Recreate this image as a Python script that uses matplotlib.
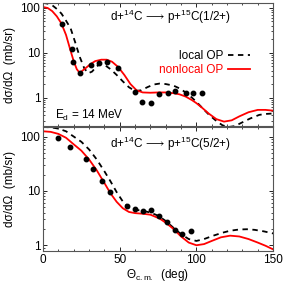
import numpy as np
import matplotlib.pyplot as plt
from matplotlib.ticker import MultipleLocator, LogLocator, NullFormatter

# ---- top panel: 1/2+ ----
top_exp_x = [12.6, 18.7, 19.8, 24.1, 31.1, 36.7, 41.6, 48.7, 60.0, 64.4, 70.5, 75.7, 81.3, 86.1, 93.0, 97.6, 103.5]
top_exp_y = [44, 12.2, 6.1, 3.5, 5.2, 6.0, 6.3, 4.5, 1.35, 0.78, 0.75, 1.21, 1.25, 1.39, 1.29, 1.27, 1.27]

top_non_x = [0, 3, 6, 9, 12, 15, 18, 20, 22, 23.5, 25, 28, 31, 34, 38, 41.5, 45, 49, 53, 57, 61, 65, 70,
             75, 80, 85, 89, 93, 97, 100, 104, 108, 113, 118, 123, 128, 134, 140, 145, 150]
top_non_y = [105, 100, 85, 65, 45, 25, 11, 6.5, 4.3, 3.7, 3.8, 4.6, 5.6, 6.5, 7.0, 7.0, 6.3, 4.8, 3.2, 2.0, 1.45, 1.3, 1.28,
             1.3, 1.3, 1.25, 1.18, 1.05, 0.88, 0.75, 0.58, 0.44, 0.33, 0.29, 0.31, 0.38, 0.47, 0.53, 0.53, 0.51]

top_loc_x = [0, 3, 6, 9, 12, 15, 18, 21, 24, 27, 29.6, 32, 35, 37.5, 40, 44, 48, 52, 56, 60, 64, 68, 72, 76,
             80, 85, 89, 93, 97, 100, 104, 108, 113, 117, 121, 125, 130, 135, 141, 145, 150]
top_loc_y = [130, 125, 115, 95, 75, 52, 35, 17, 8.0, 4.4, 3.5, 3.8, 5.0, 5.6, 5.4, 4.3, 3.2, 2.3, 1.7, 1.4, 1.45, 1.7, 1.95, 2.05,
             2.0, 1.85, 1.6, 1.3, 1.0, 0.8, 0.58, 0.42, 0.3, 0.24, 0.22, 0.23, 0.28, 0.34, 0.41, 0.43, 0.44]

# ---- bottom panel: 5/2+ ----
bot_exp_x = [10, 17.6, 27.8, 32.8, 38.5, 43.5, 55.0, 60.0, 65.0, 70.3, 75.7, 81.0, 86.0, 90.9, 96.3]
bot_exp_y = [95, 65, 38, 25, 15, 9.6, 5.3, 4.6, 4.3, 4.4, 3.4, 2.7, 1.9, 1.6, 1.8]

bot_non_x = [0, 5, 10, 15, 20, 25, 30, 35, 40, 44, 48, 52, 56, 60, 65, 70, 76, 80, 85, 90, 95, 100,
             105, 110, 116, 122, 128, 134, 140, 145, 150]
bot_non_y = [125, 122, 112, 95, 72, 55, 38, 24, 14, 9.0, 6.3, 4.8, 4.1, 3.9, 3.8, 3.65, 3.1, 2.6, 2.0, 1.45, 1.12, 1.0,
             1.05, 1.2, 1.4, 1.5, 1.45, 1.3, 1.12, 0.98, 0.84]

bot_loc_x = [0, 5, 10, 15, 20, 25, 30, 35, 40, 44, 48, 52, 56, 60, 65, 70, 75, 80, 85, 90, 95, 100,
             105, 111, 117, 122, 128, 133, 138, 144, 150]
bot_loc_y = [150, 148, 140, 125, 100, 80, 58, 38, 23, 15, 9.5, 6.4, 5.0, 4.5, 4.3, 4.0, 3.5, 2.8, 2.1, 1.6, 1.3, 1.2,
             1.3, 1.5, 1.7, 1.85, 1.95, 1.97, 1.92, 1.8, 1.65]

plt.rcParams['font.family'] = ['Liberation Sans', 'DejaVu Sans']
plt.rcParams['font.size'] = 8
plt.rcParams['mathtext.fontset'] = 'custom'
plt.rcParams['mathtext.rm'] = 'Liberation Sans'
plt.rcParams['mathtext.it'] = 'Liberation Sans'
plt.rcParams['mathtext.fallback'] = 'stixsans'
plt.rcParams['mathtext.default'] = 'regular'

fig = plt.figure(figsize=(2.83, 2.86), dpi=100)
ax1 = fig.add_axes([0.152, 0.559, 0.813, 0.431])
ax2 = fig.add_axes([0.152, 0.122, 0.813, 0.434])

for ax in (ax1, ax2):
    ax.set_yscale('log')
    ax.set_xlim(0, 150)
    ax.xaxis.set_major_locator(MultipleLocator(50))
    ax.xaxis.set_minor_locator(MultipleLocator(10))
    ax.yaxis.set_major_locator(LogLocator(base=10))
    ax.yaxis.set_minor_locator(LogLocator(base=10, subs=np.arange(2, 10)))
    ax.yaxis.set_minor_formatter(NullFormatter())
    ax.tick_params(which='both', direction='in', top=True, right=True, labelsize=8.5, pad=2)
    ax.tick_params(which='major', length=3, width=0.6)
    ax.tick_params(which='minor', length=1.5, width=0.5)
    ax.set_yticks([1, 10, 100])
    ax.set_yticklabels(['1', '10', '100'])
    ax.set_ylabel('dσ/dΩ  (mb/sr)', labelpad=3, fontsize=8.5)
    for s in ax.spines.values():
        s.set_linewidth(0.8)
        s.set_color('#555555')

ax1.set_ylim(0.23, 130)
ax2.set_ylim(0.78, 150)

ax1.plot(top_loc_x, top_loc_y, color='black', ls=(0, (3, 2.5)), lw=1.3, label='local OP')
ax1.plot(top_non_x, top_non_y, color='red', lw=1.3, label='nonlocal OP')
ax1.plot(top_exp_x, top_exp_y, 'o', color='black', ms=3.2)
ax1.tick_params(labelbottom=False)

ax2.plot(bot_loc_x, bot_loc_y, color='black', ls=(0, (3, 2.5)), lw=1.3)
ax2.plot(bot_non_x, bot_non_y, color='red', lw=1.3)
ax2.plot(bot_exp_x, bot_exp_y, 'o', color='black', ms=3.2)

ax1.text(0.29, 0.886, r'd+$^{14}$C$\,\longrightarrow\,$p+$^{15}$C(1/2+)', transform=ax1.transAxes, fontsize=8.5, va='center')
ax2.text(0.29, 0.86, r'd+$^{14}$C$\,\longrightarrow\,$p+$^{15}$C(5/2+)', transform=ax2.transAxes, fontsize=8.5, va='center')
ax1.text(0.052, 0.09, 'E$_d$ = 14 MeV', transform=ax1.transAxes, fontsize=8.5, va='center')

leg = ax1.legend(loc='upper right', bbox_to_anchor=(0.90, 0.62), frameon=False, fontsize=8.5,
                 markerfirst=False, handlelength=1.9, handletextpad=0.4, labelspacing=0.2,
                 borderaxespad=0, borderpad=0)
for t in leg.get_texts():
    if t.get_text() == 'nonlocal OP':
        t.set_color('red')

ax2.set_xlabel(r'$\Theta_{c.m.}$  (deg)', labelpad=1, fontsize=8.5)

fig.savefig('out.png', dpi=100)
